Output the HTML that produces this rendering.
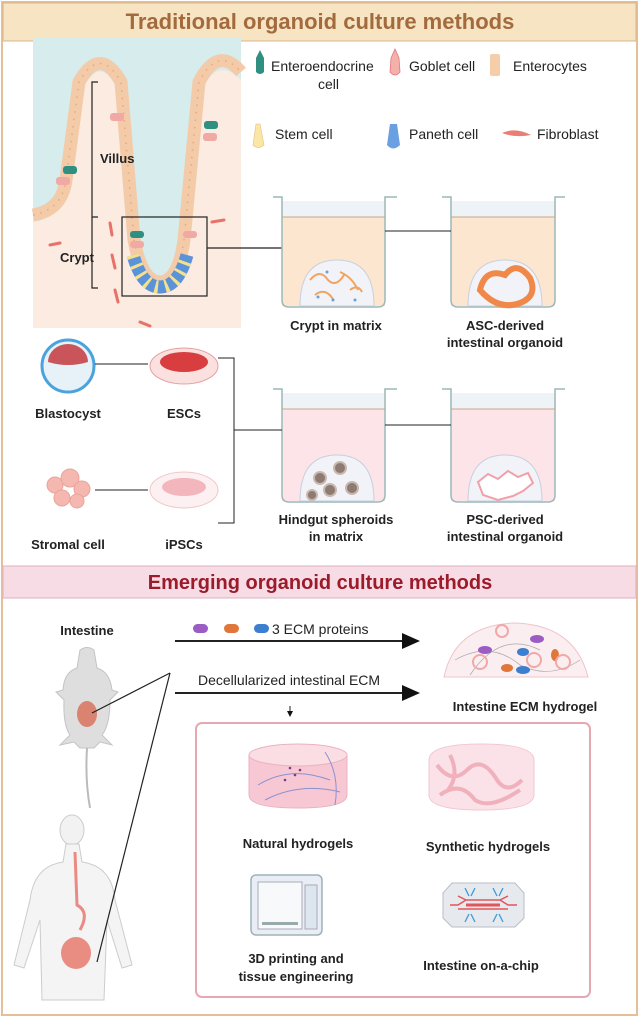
<!DOCTYPE html>
<html><head><meta charset="utf-8"><style>
html,body{margin:0;padding:0;background:#fff}
svg{display:block}
text{font-family:"Liberation Sans",Arial,sans-serif}
.b{font-weight:bold;font-size:13px;fill:#222}
.n{font-size:14px;fill:#222}
</style></head><body>
<svg width="639" height="1017" viewBox="0 0 639 1017" xmlns="http://www.w3.org/2000/svg">
<defs>
<marker id="ar" markerWidth="10" markerHeight="10" refX="8" refY="5" orient="auto"><path d="M0,1 L9,5 L0,9 z" fill="#111"/></marker>
<marker id="ar2" markerWidth="6" markerHeight="6" refX="5" refY="3" orient="auto"><path d="M0,0 L6,3 L0,6 z" fill="#111"/></marker>
</defs>
<rect x="2" y="2" width="635" height="1013" fill="#fff" stroke="#e5bf97" stroke-width="2"/>
<rect x="3" y="3" width="633" height="38" fill="#f6e4c2" stroke="#d8b58a"/>
<text x="320" y="29" text-anchor="middle" font-size="22" font-weight="bold" fill="#a36a3e">Traditional organoid culture methods</text>
<!-- intestine -->
<rect x="33" y="38" width="208" height="290" fill="#fcebe1"/>
<path d="M33,222 Q65,217 72,182 L85,85 Q100,58 115,85 L128,242 Q140,294 160,294 Q180,294 190,242 L205,85 Q218,58 241,80 L241,38 L33,38 z" fill="#d6eced"/>
<path d="M33,38 L33,222 Q65,217 72,182 L85,85 Q100,58 115,85 L128,242 Q140,294 160,294 Q180,294 190,242 L205,85 Q218,58 241,80" fill="none"/>
<path d="M33,215 Q62,210 66,180 L79,82 Q100,45 121,82 L134,240 Q142,282 160,282 Q178,282 184,240 L199,82 Q218,45 241,72" fill="none" stroke="#f3cba9" stroke-width="13"/>
<path d="M33,215 Q62,210 66,180 L79,82 Q100,45 121,82 L134,240 Q142,282 160,282 Q178,282 184,240 L199,82 Q218,45 241,72" fill="none" stroke="#e9a87a" stroke-width="1.5" stroke-dasharray="1.5 6"/>
<path d="M133,255 Q142,287 160,287 Q178,287 187,255" fill="none" stroke="#5b93d8" stroke-width="13"/>
<path d="M133,255 Q142,287 160,287 Q178,287 187,255" fill="none" stroke="#f6e08f" stroke-width="13" stroke-dasharray="3 7"/>
<rect x="63" y="166" width="14" height="8" rx="3" fill="#2f8f80"/>
<rect x="56" y="177" width="14" height="8" rx="3" fill="#f1a9a6"/>
<rect x="110" y="113" width="14" height="8" rx="3" fill="#f1a9a6"/>
<rect x="204" y="121" width="14" height="8" rx="3" fill="#2f8f80"/>
<rect x="203" y="133" width="14" height="8" rx="3" fill="#f1a9a6"/>
<rect x="130" y="231" width="14" height="7" rx="3" fill="#2f8f80"/>
<rect x="130" y="241" width="14" height="7" rx="3" fill="#f1a9a6"/>
<rect x="183" y="231" width="14" height="7" rx="3" fill="#f1a9a6"/>
<g stroke="#e8726a" stroke-width="3" stroke-linecap="round">
<line x1="50" y1="245" x2="60" y2="243"/><line x1="110" y1="223" x2="112" y2="235"/><line x1="112" y1="255" x2="115" y2="268"/><line x1="140" y1="322" x2="150" y2="326"/><line x1="212" y1="222" x2="224" y2="220"/><line x1="115" y1="290" x2="118" y2="302"/>
</g>
<path d="M98,82 L92,82 L92,288 L98,288 M92,217 L98,217" fill="none" stroke="#222" stroke-width="1.2"/>
<text x="100" y="163" class="b" font-size="14">Villus</text>
<text x="60" y="262" class="b" font-size="14">Crypt</text>
<rect x="122" y="217" width="85" height="79" fill="none" stroke="#222" stroke-width="1.2"/>
<line x1="207" y1="248" x2="282" y2="248" stroke="#222" stroke-width="1.2"/>
<!-- legend -->
<path d="M256,58 L260,50 L264,58 L264,72 Q260,76 256,72 z" fill="#2f8f80"/>
<text x="271" y="71" class="n">Enteroendocrine</text>
<text x="318" y="89" class="n">cell</text>
<path d="M391,58 L395,49 L399,58 L400,72 Q395,78 390,72 z" fill="#f4b0aa" stroke="#e07878" stroke-width="0.8"/>
<text x="409" y="71" class="n">Goblet cell</text>
<rect x="490" y="54" width="10" height="22" rx="2" fill="#f6cda9"/>
<text x="513" y="71" class="n">Enterocytes</text>
<path d="M253,145 L256,124 L260,124 L264,145 Q258,150 253,145 z" fill="#fbe6a6" stroke="#e0c080" stroke-width="0.6"/>
<text x="275" y="139" class="n">Stem cell</text>
<path d="M387,145 L390,124 L397,124 L400,145 Q393,152 387,145 z" fill="#6aa0e2"/>
<text x="409" y="139" class="n">Paneth cell</text>
<path d="M502,133 Q515,127 531,135 Q515,138 502,133 z" fill="#ea7e74"/>
<text x="537" y="139" class="n">Fibroblast</text>
<!-- wells -->
<rect x="282" y="201" width="103" height="16" fill="#eef3f7"/><rect x="282" y="217" width="103" height="89" fill="#fce6cf"/>
<rect x="451" y="201" width="104" height="16" fill="#eef3f7"/><rect x="451" y="217" width="104" height="89" fill="#fce6cf"/>
<rect x="282" y="393" width="103" height="16" fill="#eef3f7"/><rect x="282" y="409" width="103" height="92" fill="#fce4e8"/>
<rect x="451" y="393" width="104" height="16" fill="#eef3f7"/><rect x="451" y="409" width="104" height="92" fill="#fce4e8"/>
<g stroke="#9cb8b8" stroke-width="1.5" fill="none">
<path d="M273,197 L282,197 L282,300 Q282,307 289,307 L378,307 Q385,307 385,300 L385,197 L397,197"/>
<path d="M442,197 L451,197 L451,300 Q451,307 458,307 L548,307 Q555,307 555,300 L555,197 L565,197"/>
<path d="M273,389 L282,389 L282,495 Q282,502 289,502 L378,502 Q385,502 385,495 L385,389 L397,389"/>
<path d="M442,389 L451,389 L451,495 Q451,502 458,502 L548,502 Q555,502 555,495 L555,389 L565,389"/>
</g>
<line x1="282" y1="217" x2="385" y2="217" stroke="#c9a789"/><line x1="451" y1="217" x2="555" y2="217" stroke="#c9a789"/>
<line x1="282" y1="409" x2="385" y2="409" stroke="#c9a789"/><line x1="451" y1="409" x2="555" y2="409" stroke="#c9a789"/>
<path d="M300,306 Q300,260 337,260 Q374,260 374,306 z" fill="#f2f3f8" stroke="#c8d0dc"/>
<path d="M468,306 Q468,260 505,260 Q542,260 542,306 z" fill="#f2f3f8" stroke="#c8d0dc"/>
<path d="M310,280 q10,-12 18,0 q8,8 16,-5 M315,295 q10,-8 18,4 M340,272 q12,5 18,18 M350,290 q8,-6 12,2" fill="none" stroke="#f1a35f" stroke-width="2"/>
<g fill="#6aa0d8"><circle cx="327" cy="272" r="1.5"/><circle cx="333" cy="300" r="1.5"/><circle cx="355" cy="300" r="1.5"/><circle cx="318" cy="297" r="1.5"/></g>
<path d="M480,290 q5,-22 25,-15 q12,-15 25,3 q8,18 -10,25 q-22,8 -40,-13 z" fill="none" stroke="#f0884a" stroke-width="6"/>
<path d="M300,501 Q300,455 337,455 Q374,455 374,501 z" fill="#f2f3f8" stroke="#c8d0dc"/>
<path d="M468,501 Q468,455 505,455 Q542,455 542,501 z" fill="#f2f3f8" stroke="#c8d0dc"/>
<g fill="#8d7a73" stroke="#c9b8b0" stroke-width="2"><circle cx="320" cy="478" r="6"/><circle cx="340" cy="468" r="6"/><circle cx="330" cy="490" r="6"/><circle cx="352" cy="488" r="6"/><circle cx="312" cy="495" r="5"/></g>
<path d="M478,482 l10,-8 10,5 10,-8 10,6 10,-4 5,10 -10,8 -10,5 -15,4 -15,-5 z" fill="#fff" stroke="#f0a0a8" stroke-width="2"/>
<line x1="385" y1="231" x2="451" y2="231" stroke="#222"/>
<line x1="385" y1="425" x2="451" y2="425" stroke="#222"/>
<text x="336" y="330" text-anchor="middle" class="b">Crypt in matrix</text>
<text x="505" y="330" text-anchor="middle" class="b">ASC-derived</text>
<text x="505" y="347" text-anchor="middle" class="b">intestinal organoid</text>
<text x="336" y="524" text-anchor="middle" class="b">Hindgut spheroids</text>
<text x="336" y="541" text-anchor="middle" class="b">in matrix</text>
<text x="505" y="524" text-anchor="middle" class="b">PSC-derived</text>
<text x="505" y="541" text-anchor="middle" class="b">intestinal organoid</text>
<!-- blastocyst etc -->
<circle cx="68" cy="366" r="26" fill="#e7f1f8" stroke="#4aa3dd" stroke-width="3"/>
<path d="M48,362 A20,18 0 0 1 88,362 Q68,368 48,362 z" fill="#c9545a"/>
<ellipse cx="184" cy="366" rx="34" ry="18" fill="#fbe0e0" stroke="#e5a0a0"/>
<ellipse cx="184" cy="362" rx="24" ry="10" fill="#d83d40"/>
<g fill="#f5b8b0" stroke="#eaa39a"><circle cx="55" cy="485" r="8"/><circle cx="70" cy="478" r="9"/><circle cx="82" cy="489" r="8"/><circle cx="62" cy="498" r="8"/><circle cx="77" cy="501" r="7"/></g>
<ellipse cx="184" cy="490" rx="34" ry="18" fill="#fdf0f2" stroke="#f0c8c8"/>
<ellipse cx="184" cy="487" rx="22" ry="9" fill="#f3b6bd"/>
<line x1="95" y1="364" x2="148" y2="364" stroke="#222"/>
<line x1="95" y1="490" x2="148" y2="490" stroke="#222"/>
<path d="M218,358 L234,358 L234,523 L218,523 M234,430 L282,430" fill="none" stroke="#222"/>
<text x="68" y="418" text-anchor="middle" class="b">Blastocyst</text>
<text x="184" y="418" text-anchor="middle" class="b">ESCs</text>
<text x="68" y="549" text-anchor="middle" class="b">Stromal cell</text>
<text x="184" y="549" text-anchor="middle" class="b">iPSCs</text>
<!-- header 2 -->
<rect x="3" y="566" width="633" height="32" fill="#f7dbe5" stroke="#dcb0c0"/>
<text x="320" y="589" text-anchor="middle" font-size="20" font-weight="bold" fill="#9b1b2b">Emerging organoid culture methods</text>
<text x="87" y="635" text-anchor="middle" class="b">Intestine</text>
<!-- mouse -->
<path d="M80,650 Q87,645 94,650 L97,668 Q110,672 112,690 L118,692 L110,700 Q110,725 102,735 L112,745 L100,742 L94,748 L80,748 L74,742 L60,745 L70,735 Q63,725 64,700 L56,692 L63,690 Q64,672 77,668 z" fill="#dedede" stroke="#c4c4c4"/>
<path d="M87,748 Q85,780 90,808" fill="none" stroke="#bbb" stroke-width="2"/>
<ellipse cx="87" cy="714" rx="10" ry="13" fill="#d98370"/>
<!-- human -->
<ellipse cx="72" cy="830" rx="12" ry="15" fill="#f2f2f2" stroke="#ccc"/>
<path d="M66,844 L79,844 L82,862 Q112,866 115,900 L132,965 L122,968 L107,920 L104,1000 L42,1000 L40,920 L24,968 L14,965 L30,900 Q34,866 63,862 z" fill="#f4f4f4" stroke="#ccc"/>
<path d="M75,852 L77,905 Q90,912 80,930" fill="none" stroke="#ea8a85" stroke-width="3"/>
<ellipse cx="76" cy="953" rx="15" ry="16" fill="#e98d83"/>
<line x1="92" y1="713" x2="170" y2="673" stroke="#222" stroke-width="1.2"/>
<line x1="170" y1="673" x2="97" y2="962" stroke="#222" stroke-width="1.2"/>
<!-- arrows -->
<line x1="175" y1="641" x2="418" y2="641" stroke="#222" stroke-width="2" marker-end="url(#ar)"/>
<line x1="175" y1="693" x2="418" y2="693" stroke="#222" stroke-width="2" marker-end="url(#ar)"/>
<rect x="193" y="624" width="15" height="9" rx="4.5" fill="#9b5cc4"/>
<rect x="224" y="624" width="15" height="9" rx="4.5" fill="#e0763a"/>
<rect x="254" y="624" width="15" height="9" rx="4.5" fill="#3c7fd0"/>
<text x="272" y="634" class="n">3 ECM proteins</text>
<text x="198" y="685" class="n">Decellularized intestinal ECM</text>
<line x1="290" y1="706" x2="290" y2="716" stroke="#222" marker-end="url(#ar2)"/>
<path d="M444,677 Q455,625 515,623 Q575,625 588,677 z" fill="#fbeef0" stroke="#f0c4c8"/>
<path d="M455,660 Q490,640 520,665 Q550,680 580,660 M470,675 Q500,630 540,650" fill="none" stroke="#aaa" stroke-width="0.7"/>
<g fill="#9b5cc4"><ellipse cx="485" cy="650" rx="7" ry="4"/><ellipse cx="537" cy="639" rx="7" ry="4"/></g>
<g fill="#3c7fd0"><ellipse cx="523" cy="652" rx="6" ry="4"/><ellipse cx="523" cy="670" rx="7" ry="4"/></g>
<g fill="#e0763a"><ellipse cx="555" cy="655" rx="4" ry="6"/><ellipse cx="507" cy="668" rx="6" ry="4"/></g>
<g fill="none" stroke="#f0a8a8" stroke-width="2"><circle cx="502" cy="631" r="6"/><circle cx="480" cy="662" r="7"/><circle cx="534" cy="660" r="7"/><circle cx="563" cy="662" r="7"/></g>
<text x="525" y="711" text-anchor="middle" class="b" font-size="14">Intestine ECM hydrogel</text>
<!-- box -->
<rect x="196" y="723" width="394" height="274" rx="6" fill="none" stroke="#e6a8b0" stroke-width="2"/>
<path d="M249,755 L249,795 Q249,808 298,808 Q347,808 347,795 L347,755" fill="#f7c8d4" stroke="#e9b3c0"/>
<ellipse cx="298" cy="755" rx="49" ry="11" fill="#fbdde4" stroke="#e9b3c0"/>
<path d="M258,785 Q290,765 330,780 M265,800 Q300,782 340,792 M325,752 Q340,775 335,805" fill="none" stroke="#8a90d0" stroke-width="1"/>
<g fill="#7a3a8a"><circle cx="290" cy="768" r="1.3"/><circle cx="295" cy="775" r="1.3"/><circle cx="300" cy="770" r="1.3"/><circle cx="285" cy="780" r="1.3"/></g>
<path d="M429,760 L429,795 Q429,810 481,810 Q534,810 534,795 L534,760 Q534,744 481,744 Q429,744 429,760 z" fill="#fbe2e8" stroke="#f2c7d2"/>
<path d="M437,765 q15,20 30,5 q15,-15 30,10 q10,15 25,0 M440,795 q20,-15 35,5 q15,10 45,-10 M450,755 q10,20 -2,35" fill="none" stroke="#f0b0bc" stroke-width="4"/>
<text x="298" y="848" text-anchor="middle" class="b" font-size="14">Natural hydrogels</text>
<text x="488" y="851" text-anchor="middle" class="b" font-size="14">Synthetic hydrogels</text>
<!-- printer -->
<rect x="251" y="875" width="71" height="60" rx="5" fill="#e8eef3" stroke="#9fb0bc" stroke-width="1.5"/>
<rect x="258" y="882" width="44" height="47" fill="#f7f9fb" stroke="#aab"/>
<rect x="305" y="885" width="12" height="44" fill="#dde6ee" stroke="#aab"/>
<rect x="262" y="922" width="36" height="3" fill="#9aa"/>
<text x="296" y="963" text-anchor="middle" class="b" font-size="14">3D printing and</text>
<text x="296" y="981" text-anchor="middle" class="b" font-size="14">tissue engineering</text>
<!-- chip -->
<path d="M452,883 L515,883 L524,893 L524,918 L515,927 L452,927 L443,918 L443,893 z" fill="#e6e9ee" stroke="#b8bec8"/>
<path d="M450,905 L458,905 L466,900 L500,900 L508,905 L517,905 M466,900 L458,896 M500,900 L508,896 M458,909 L466,909 L500,909 L508,909" fill="none" stroke="#e0565a" stroke-width="1.5"/>
<line x1="466" y1="905" x2="500" y2="905" stroke="#e0565a" stroke-width="3"/>
<path d="M465,888 l4,8 M475,888 l-4,8 M493,888 l4,8 M503,888 l-4,8 M465,922 l4,-8 M475,922 l-4,-8 M493,922 l4,-8 M503,922 l-4,-8" stroke="#3d9ad8" stroke-width="1.3"/>
<text x="481" y="970" text-anchor="middle" class="b" font-size="14">Intestine on-a-chip</text>
</svg>
</body></html>
